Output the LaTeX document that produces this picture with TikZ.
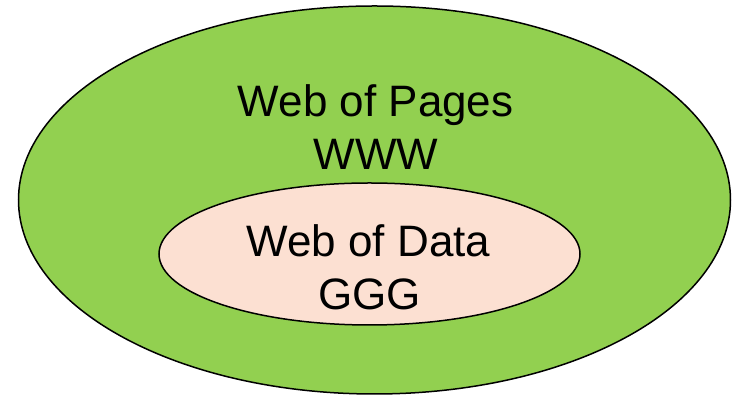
\documentclass[tikz,border=0pt]{standalone}
\usepackage{fontspec}
\setmainfont{Liberation Sans}
\definecolor{webgreen}{RGB}{146,208,80}
\definecolor{datapeach}{RGB}{252,224,210}
\begin{document}
\begin{tikzpicture}[x=1pt,y=1pt]
    \useasboundingbox (0,0) rectangle (732,395);
    \draw[line width=1.5pt, fill=webgreen] (374.5,195) ellipse [x radius=356, y radius=194];
    \draw[line width=1.5pt, fill=datapeach] (369.5,141) ellipse [x radius=210.5, y radius=71];

    \node[anchor=base, font=\fontsize{44}{52}\selectfont] (pages) at (375.7,278) {Web of Pages};
    \node[anchor=base, font=\fontsize{44}{52}\selectfont] (www) at (376,225) {WWW};
    \node[anchor=base, font=\fontsize{44}{52}\selectfont] (data) at (368.5,138) {Web of Data};
    \node[anchor=base, font=\fontsize{44}{52}\selectfont] (ggg) at (369.5,85) {GGG};
\end{tikzpicture}
\end{document}
